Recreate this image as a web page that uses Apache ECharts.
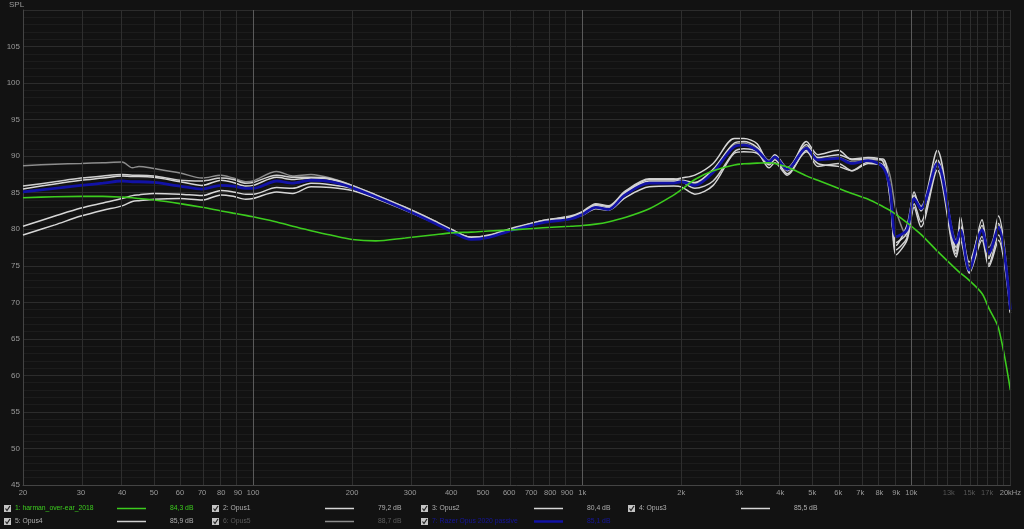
<!DOCTYPE html>
<html>
<head>
<meta charset="utf-8">
<title>SPL</title>
<script src="https://cdn.jsdelivr.net/npm/echarts@6/dist/echarts.min.js"></script>
<style>
html, body { margin: 0; padding: 0; background: #121212; }
#chart { width: 1024px; height: 529px; }
</style>
</head>
<body>
<div id="chart"></div>
<script>
// frequency points (Hz) shared by all traces
var freq = [20, 25, 30, 35, 40, 43, 45, 50, 60, 70, 80, 87, 95, 100, 118, 132, 150, 172, 200, 236,
	290, 350, 400, 460, 520, 630, 760, 920, 1000, 1100, 1200, 1350, 1600, 1900, 2000, 2200, 2500, 2900, 3100, 3400,
	3700, 3850, 4200, 4800, 5200, 6000, 6600, 7400, 8200, 8600, 9000, 9700, 10200, 10700, 12000, 13700, 14100, 15000, 16400, 17200,
	18400, 20000];

// SPL values (dB)
var harman = [84.3, 84.45, 84.5, 84.5, 84.4, 84.3, 84.2, 84.0, 83.5, 83.0, 82.5, 82.2, 81.9, 81.7, 81.0, 80.4, 79.8, 79.2, 78.6, 78.4,
	78.8, 79.2, 79.5, 79.6, 79.75, 79.95, 80.2, 80.4, 80.5, 80.7, 81.0, 81.6, 82.8, 84.7, 85.4, 86.8, 88.0, 88.8, 88.95, 89.05,
	89.1, 89.0, 88.5, 87.3, 86.7, 85.6, 84.9, 84.1, 83.1, 82.6, 82.0, 80.9, 80.1, 79.3, 77.0, 74.5, 74.0, 73.0, 71.2, 69.2,
	66.5, 58.0];
var opus1 = [79.2, 80.6, 81.8, 82.6, 83.2, 83.8, 83.9, 84.1, 84.2, 84.0, 84.7, 84.5, 84.1, 84.2, 85.1, 84.9, 85.8, 85.7, 85.3, 84.2,
	82.6, 81.0, 79.8, 78.8, 79.0, 80.1, 81.0, 81.5, 81.9, 82.8, 82.6, 84.3, 85.8, 85.9, 85.8, 84.8, 86.0, 90.4, 90.6, 90.4,
	88.8, 89.5, 87.6, 90.6, 89.0, 88.6, 88.0, 89.0, 88.6, 86.0, 76.5, 78.5, 83.0, 80.3, 88.1, 76.2, 78.5, 74.0, 78.5, 74.9,
	78.5, 68.6];
var opus2 = [80.4, 81.8, 82.9, 83.6, 84.2, 84.6, 84.7, 84.9, 84.8, 84.6, 85.3, 85.1, 84.8, 84.8, 85.7, 85.6, 86.3, 86.1, 85.6, 84.4,
	82.8, 81.1, 79.9, 78.9, 79.1, 80.2, 81.1, 81.6, 82.2, 83.2, 82.9, 85.0, 86.6, 86.6, 86.7, 86.4, 88.2, 91.8, 92.0, 91.2,
	89.4, 90.2, 88.4, 91.6, 89.8, 90.2, 89.6, 89.8, 89.3, 84.5, 77.8, 80.5, 84.6, 83.0, 90.8, 77.0, 81.7, 74.4, 81.3, 76.0,
	81.8, 68.8];
var opus3 = [85.5, 86.2, 86.7, 87.0, 87.3, 87.2, 87.2, 87.1, 86.5, 86.0, 86.7, 86.4, 85.9, 86.0, 87.1, 86.8, 87.0, 86.8, 85.9, 84.6,
	82.9, 81.2, 79.9, 78.8, 79.1, 80.2, 81.2, 81.7, 82.3, 83.4, 83.1, 85.1, 86.8, 86.8, 87.0, 87.4, 89.0, 92.4, 92.4, 91.7,
	89.0, 90.0, 88.0, 92.0, 90.2, 90.8, 89.5, 89.6, 89.6, 85.0, 78.2, 79.5, 85.1, 82.5, 89.5, 77.5, 80.5, 75.5, 80.5, 76.0,
	80.8, 68.6];
var opus4 = [85.9, 86.5, 87.0, 87.3, 87.5, 87.4, 87.4, 87.3, 86.7, 86.6, 87.0, 86.8, 86.3, 86.4, 87.4, 87.1, 87.1, 86.9, 86.0, 84.7,
	83.0, 81.3, 80.0, 78.9, 79.2, 80.3, 81.2, 81.8, 82.4, 83.5, 83.2, 85.2, 86.9, 86.9, 86.6, 85.6, 86.6, 90.6, 91.0, 90.6,
	88.4, 89.1, 87.4, 90.8, 88.6, 89.0, 88.0, 89.2, 88.8, 85.5, 77.2, 78.8, 83.5, 81.0, 88.8, 76.6, 79.0, 74.2, 79.0, 75.2,
	79.2, 68.9];
var opus5 = [88.7, 88.9, 89.0, 89.1, 89.2, 88.4, 88.6, 88.3, 87.7, 87.0, 87.4, 87.0, 86.5, 86.6, 87.9, 87.3, 87.5, 87.0, 86.0, 84.7,
	83.0, 81.3, 80.0, 78.9, 79.1, 80.2, 81.1, 81.6, 82.2, 83.1, 82.8, 84.9, 86.5, 86.5, 86.6, 86.2, 88.0, 91.6, 91.8, 90.9,
	89.3, 89.8, 88.2, 91.3, 89.6, 89.8, 89.2, 89.5, 89.4, 87.5, 82.5, 79.0, 84.2, 83.2, 89.3, 78.5, 80.2, 75.0, 80.0, 77.5,
	80.5, 68.5];
var razer = [85.1, 85.6, 86.0, 86.3, 86.6, 86.5, 86.5, 86.4, 85.9, 85.5, 86.0, 85.9, 85.6, 85.6, 86.6, 86.3, 86.7, 86.5, 85.7, 84.4,
	82.7, 81.0, 79.7, 78.6, 78.9, 80.0, 80.9, 81.4, 82.0, 83.0, 82.7, 84.7, 86.3, 86.3, 86.5, 86.0, 87.8, 91.3, 91.5, 90.8,
	89.2, 89.9, 88.2, 91.1, 89.5, 89.7, 89.0, 89.4, 88.5, 85.8, 79.0, 79.9, 84.2, 82.8, 89.0, 78.1, 79.9, 74.4, 79.9, 76.7,
	80.3, 69.0];

// axis ticks
var xTicks = [20, 30, 40, 50, 60, 70, 80, 90, 100, 200, 300, 400, 500, 600, 700, 800, 900,
	1000, 2000, 3000, 4000, 5000, 6000, 7000, 8000, 9000, 10000, 13000, 15000, 17000, 20000];
var xTickText = ['20', '30', '40', '50', '60', '70', '80', '90', '100', '200', '300', '400', '500', '600', '700', '800', '900',
	'1k', '2k', '3k', '4k', '5k', '6k', '7k', '8k', '9k', '10k', '13k', '15k', '17k', '20kHz'];
var dimTicks = ['13k', '15k', '17k'];
var gridFreqs = [30, 40, 50, 60, 70, 80, 90, 200, 300, 400, 500, 600, 700, 800, 900,
	2000, 3000, 4000, 5000, 6000, 7000, 8000, 9000, 11000, 12000, 13000, 14000, 15000, 16000, 17000, 18000, 19000, 20000];
var majorFreqs = [100, 1000, 10000];

// legend entries
var traceNames = ['1: harman_over-ear_2018', '2: Opus1', '3: Opus2', '4: Opus3', '5: Opus4', '6: Opus5', '7: Razer Opus 2020 passive'];
var traceLevels = ['84,3 dB', '79,2 dB', '80,4 dB', '85,5 dB', '85,9 dB', '88,7 dB', '85,1 dB'];
var traceData = [harman, opus1, opus2, opus3, opus4, opus5, razer];
var traceColors = ['#3ccc1e', '#d6d6d6', '#d6d6d6', '#d6d6d6', '#cfcfcf', '#8c8c8c', '#1212a6'];
var textColors = ['#3ccc1e', '#b0b0b0', '#b0b0b0', '#b0b0b0', '#b0b0b0', '#5c5c5c', '#16169c'];
var traceWidths = [1.6, 1.5, 1.5, 1.5, 1.5, 1.5, 2.8];

var FONT = 'Liberation Sans';

function toPts (vals) {
	return freq.map(function (f, i) { return [Math.log10(f), vals[i]]; });
}

var chart = echarts.init(document.getElementById('chart'));

//竖向网格线
var vLines = [];
gridFreqs.forEach(function (f) {
	vLines.push({ xAxis: Math.log10(f), lineStyle: { color: '#2e2e2e', width: 1, type: 'solid' } });
});
majorFreqs.forEach(function (f) {
	vLines.push({ xAxis: Math.log10(f), lineStyle: { color: '#5a5a5a', width: 1, type: 'solid' } });
});

var series = [{
	name: 'grid',
	type: 'line',
	data: [],
	silent: true,
	markLine: {
		silent: true,
		symbol: 'none',
		label: { show: false },
		animation: false,
		data: vLines
	}
}];
// draw order: whites, blue, green on top
var order = [5, 1, 2, 3, 4, 6, 0];
order.forEach(function (i) {
	series.push({
		name: traceNames[i],
		type: 'line',
		data: toPts(traceData[i]),
		showSymbol: false,
		smooth: 0.3,
		lineStyle: { color: traceColors[i], width: traceWidths[i] },
		z: 3
	});
});

//图例
var colX = [4, 212, 421, 628];
var graphics = [{
	type: 'text', left: 9, top: 1,
	style: { text: 'SPL', fill: '#9a9a9a', font: '8px ' + FONT }
}];
traceNames.forEach(function (name, i) {
	var x = colX[i % 4];
	var y = 505 + Math.floor(i / 4) * 13;
	graphics.push({ type: 'rect', shape: { x: x, y: y, width: 7, height: 7 }, style: { fill: '#c4c4c4' } });
	graphics.push({ type: 'polyline', shape: { points: [[x + 1.5, y + 3.5], [x + 3, y + 5.5], [x + 6, y + 1]] },
		style: { stroke: '#222', lineWidth: 1.2, fill: null } });
	graphics.push({ type: 'text', x: x + 11, y: y,
		style: { text: name, fill: textColors[i], font: '6.8px ' + FONT } });
	graphics.push({ type: 'line', shape: { x1: x + 113, y1: y + 3.5, x2: x + 142, y2: y + 3.5 },
		style: { stroke: traceColors[i], lineWidth: i == 6 ? 2.5 : 1.5 } });
	graphics.push({ type: 'text', x: x + 166, y: y,
		style: { text: traceLevels[i], fill: textColors[i], font: '6.8px ' + FONT } });
});

var option = {
	backgroundColor: '#121212',
	animation: false,
	grid: { left: 23, right: 12, top: 10, bottom: 44 },
	xAxis: {
		type: 'value',
		min: Math.log10(20),
		max: Math.log10(20000),
		splitLine: { show: false },
		axisTick: { show: false },
		axisLine: { show: true, lineStyle: { color: '#444' } },
		axisLabel: {
			customValues: xTicks.map(function (f) { return Math.log10(f); }),
			color: '#9a9a9a',
			fontFamily: FONT,
			fontSize: 7.5,
			margin: 4,
			formatter: function (v) {
				var f = Math.pow(10, v);
				var best = 0;
				for (var i = 1; i < xTicks.length; i++) {
					if (Math.abs(xTicks[i] - f) < Math.abs(xTicks[best] - f)) best = i;
				}
				var t = xTickText[best];
				return dimTicks.indexOf(t) >= 0 ? '{d|' + t + '}' : t;
			},
			rich: { d: { color: '#555', fontFamily: FONT, fontSize: 7.5 } }
		}
	},
	yAxis: {
		type: 'value',
		min: 45,
		max: 110,
		interval: 5,
		axisTick: { show: false },
		axisLine: { show: true, lineStyle: { color: '#444' } },
		splitLine: { show: true, lineStyle: { color: '#2c2c2c' } },
		minorTick: { show: false, splitNumber: 5 },
		minorSplitLine: { show: true, lineStyle: { color: '#1c1c1c' } },
		axisLabel: {
			color: '#9a9a9a',
			fontFamily: FONT,
			fontSize: 8,
			margin: 3,
			formatter: function (v) { return v == 110 ? '' : v; }
		}
	},
	graphic: graphics,
	series: series
};
chart.setOption(option);
</script>
</body>
</html>
